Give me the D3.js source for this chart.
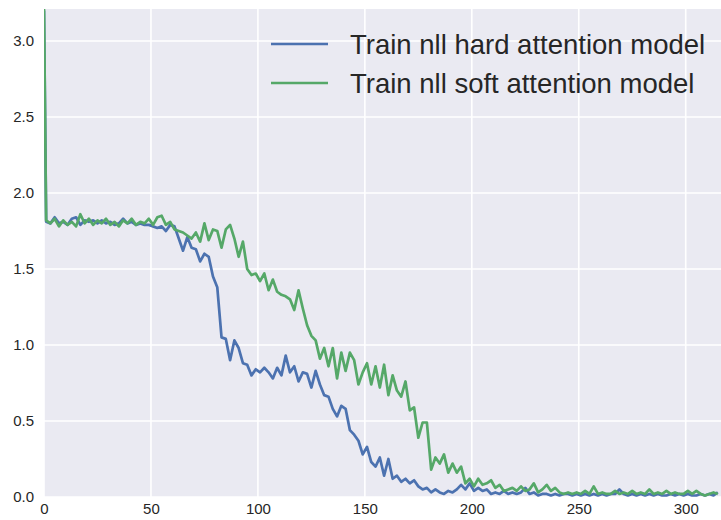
<!DOCTYPE html>
<html>
<head>
<meta charset="utf-8">
<script src="https://cdn.jsdelivr.net/npm/d3@7"></script>
<style>
  html, body { margin: 0; padding: 0; background: #ffffff; }
  svg { display: block; font-family: 'Liberation Sans', Arial, sans-serif; }
</style>
</head>
<body>
<div id="chart"></div>
<script>
// epochs: 0, then every second epoch from 1
const epochs = [0].concat(d3.range(1, 316, 2));

const hardNll = [
  3.20, 1.81, 1.80, 1.84, 1.80, 1.81, 1.79, 1.83, 1.84, 1.79,
  1.82, 1.81, 1.82, 1.80, 1.82, 1.80, 1.81, 1.79, 1.80, 1.83,
  1.80, 1.81, 1.79, 1.80, 1.79, 1.79, 1.78, 1.77, 1.78, 1.75,
  1.79, 1.78, 1.70, 1.62, 1.71, 1.64, 1.63, 1.55, 1.60, 1.58,
  1.45, 1.38, 1.05, 1.04, 0.90, 1.03, 0.98, 0.88, 0.87, 0.80,
  0.84, 0.82, 0.85, 0.82, 0.78, 0.85, 0.80, 0.93, 0.82, 0.86,
  0.76, 0.82, 0.81, 0.72, 0.83, 0.74, 0.67, 0.66, 0.58, 0.53,
  0.60, 0.58, 0.44, 0.41, 0.37, 0.28, 0.33, 0.23, 0.20, 0.26,
  0.14, 0.25, 0.12, 0.14, 0.10, 0.12, 0.09, 0.11, 0.07, 0.05,
  0.06, 0.03, 0.05, 0.03, 0.02, 0.04, 0.03, 0.05, 0.08, 0.05,
  0.09, 0.04, 0.06, 0.04, 0.05, 0.02, 0.03, 0.02, 0.04, 0.02,
  0.03, 0.02, 0.03, 0.06, 0.02, 0.03, 0.01, 0.02, 0.02, 0.01,
  0.02, 0.01, 0.02, 0.02, 0.01, 0.02, 0.01, 0.02, 0.01, 0.02,
  0.01, 0.02, 0.01, 0.02, 0.02, 0.05, 0.02, 0.01, 0.02, 0.01,
  0.02, 0.01, 0.02, 0.01, 0.02, 0.01, 0.01, 0.02, 0.01, 0.02,
  0.01, 0.02, 0.01, 0.01, 0.02, 0.01, 0.02, 0.01, 0.03
];

const softNll = [
  3.21, 1.82, 1.80, 1.83, 1.78, 1.82, 1.79, 1.81, 1.78, 1.86,
  1.80, 1.83, 1.79, 1.82, 1.80, 1.83, 1.79, 1.81, 1.78, 1.82,
  1.80, 1.83, 1.79, 1.81, 1.80, 1.83, 1.79, 1.84, 1.85, 1.79,
  1.81, 1.76, 1.75, 1.74, 1.72, 1.70, 1.74, 1.68, 1.80, 1.69,
  1.76, 1.75, 1.64, 1.76, 1.79, 1.70, 1.58, 1.68, 1.50, 1.46,
  1.47, 1.42, 1.47, 1.36, 1.43, 1.35, 1.33, 1.32, 1.30, 1.23,
  1.36, 1.24, 1.13, 1.06, 1.03, 0.91, 0.98, 0.86, 0.98, 0.78,
  0.95, 0.83, 0.95, 0.90, 0.74, 0.82, 0.88, 0.74, 0.86, 0.72,
  0.87, 0.67, 0.80, 0.70, 0.66, 0.76, 0.57, 0.59, 0.39, 0.49,
  0.49, 0.18, 0.26, 0.22, 0.28, 0.16, 0.22, 0.16, 0.20, 0.09,
  0.12, 0.07, 0.12, 0.08, 0.09, 0.11, 0.06, 0.08, 0.04, 0.05,
  0.06, 0.04, 0.07, 0.04, 0.05, 0.09, 0.03, 0.05, 0.08, 0.04,
  0.06, 0.03, 0.02, 0.03, 0.02, 0.03, 0.02, 0.04, 0.02, 0.07,
  0.02, 0.03, 0.02, 0.02, 0.04, 0.02, 0.03, 0.02, 0.04, 0.02,
  0.03, 0.02, 0.05, 0.02, 0.03, 0.02, 0.04, 0.02, 0.03, 0.02,
  0.02, 0.04, 0.02, 0.04, 0.02, 0.01, 0.02, 0.03, 0.02, 0.03
];

const xTicks = [0, 50, 100, 150, 200, 250, 300];
const yTicks = [0.0, 0.5, 1.0, 1.5, 2.0, 2.5, 3.0];
const seriesNames = ['Train nll hard attention model', 'Train nll soft attention model'];
const seriesColors = ['#4C72B0', '#55A868'];

const width = 721, height = 520;
const margin = { top: 9, right: 0, bottom: 23, left: 44 };

const svg = d3.select('#chart')
  .append('svg')
  .attr('width', width)
  .attr('height', height);

const x = d3.scaleLinear().domain([0, 316.5]).range([margin.left, width - margin.right]);
const y = d3.scaleLinear().domain([0, 3.21]).range([height - margin.bottom, margin.top]);

// background + grid (seaborn darkgrid look)
svg.append('rect')
  .attr('x', margin.left)
  .attr('y', margin.top)
  .attr('width', width - margin.right - margin.left)
  .attr('height', height - margin.bottom - margin.top)
  .attr('fill', '#EAEAF2');

svg.append('clipPath').attr('id', 'plotClip')
  .append('rect')
  .attr('x', margin.left)
  .attr('y', margin.top)
  .attr('width', width - margin.right - margin.left)
  .attr('height', height - margin.bottom - margin.top);

svg.append('g')
  .selectAll('line')
  .data(xTicks)
  .join('line')
  .attr('x1', d => x(d)).attr('x2', d => x(d))
  .attr('y1', margin.top).attr('y2', height - margin.bottom)
  .attr('stroke', '#ffffff')
  .attr('stroke-width', 1.6);

svg.append('g')
  .selectAll('line')
  .data(yTicks)
  .join('line')
  .attr('x1', margin.left).attr('x2', width - margin.right)
  .attr('y1', d => y(d)).attr('y2', d => y(d))
  .attr('stroke', '#ffffff')
  .attr('stroke-width', 1.6);

// axes (no domain line, no tick marks)
const xAxis = svg.append('g')
  .attr('transform', `translate(0,${height - margin.bottom})`)
  .call(d3.axisBottom(x).tickValues(xTicks).tickSize(0).tickPadding(6).tickFormat(d3.format('d')));
xAxis.select('.domain').remove();

const yAxis = svg.append('g')
  .attr('transform', `translate(${margin.left},0)`)
  .call(d3.axisLeft(y).tickValues(yTicks).tickSize(0).tickPadding(10).tickFormat(d3.format('.1f')));
yAxis.select('.domain').remove();

svg.selectAll('.tick text')
  .attr('fill', '#262626')
  .style('font-family', "'Liberation Sans', Arial, sans-serif")
  .style('font-size', '15px');

// lines
const line = d3.line()
  .x((d, i) => x(epochs[i]))
  .y(d => y(d));

const plot = svg.append('g').attr('clip-path', 'url(#plotClip)');

[hardNll, softNll].forEach((values, k) => {
  plot.append('path')
    .datum(values)
    .attr('fill', 'none')
    .attr('stroke', seriesColors[k])
    .attr('stroke-width', 2.7)
    .attr('stroke-linejoin', 'round')
    .attr('d', line);
});

// legend
const legend = svg.append('g').attr('transform', 'translate(271,44)');
seriesNames.forEach((name, k) => {
  const row = legend.append('g').attr('transform', `translate(0,${k * 39})`);
  row.append('line')
    .attr('x1', 0).attr('x2', 57)
    .attr('stroke', seriesColors[k])
    .attr('stroke-width', 2.7);
  row.append('text')
    .attr('x', 79)
    .attr('y', 0)
    .attr('dy', '0.35em')
    .attr('fill', '#262626')
    .style('font-size', '27.5px')
    .text(name);
});
</script>
</body>
</html>
